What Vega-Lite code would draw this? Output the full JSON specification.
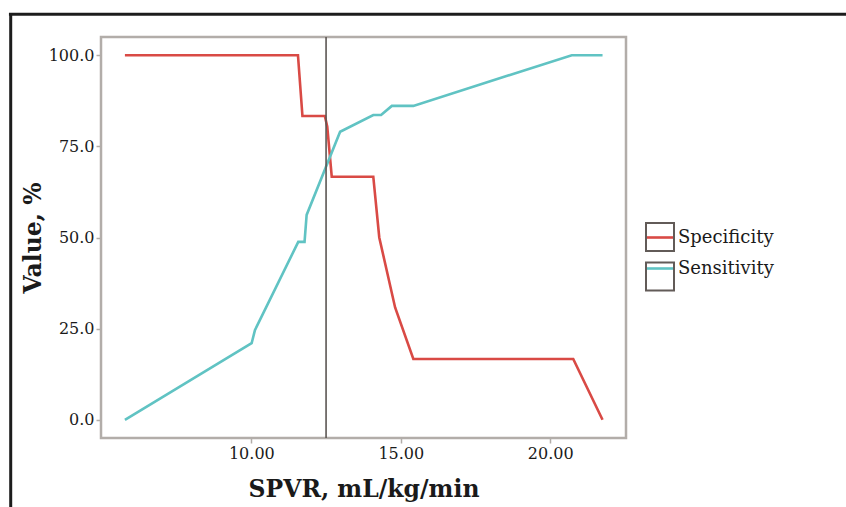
{
  "$schema": "https://vega.github.io/schema/vega-lite/v6.json",
  "width": 525,
  "height": 401,
  "autosize": {"type": "none"},
  "padding": {"left": 101, "top": 37, "right": 220, "bottom": 69},
  "background": "#ffffff",
  "config": {
    "font": "DejaVu Serif",
    "view": {"stroke": "#b2ada9", "strokeWidth": 2.5},
    "axis": {
      "labelFont": "DejaVu Serif",
      "titleFont": "DejaVu Serif",
      "labelFontSize": 16,
      "labelColor": "#1a1a1a",
      "titleFontSize": 23.5,
      "titleFontWeight": "bold",
      "titleColor": "#1a1a1a",
      "gridColor": "#e7e2e1",
      "gridWidth": 1,
      "tickColor": "#b2ada9",
      "tickSize": 5,
      "tickWidth": 1.5,
      "domain": false,
      "labelPadding": 2
    }
  },
  "data": {
    "values": [
      {"spvr": 5.77, "value": 100, "series": "Specificity"},
      {"spvr": 11.56, "value": 100, "series": "Specificity"},
      {"spvr": 11.71, "value": 83.33, "series": "Specificity"},
      {"spvr": 12.46, "value": 83.33, "series": "Specificity"},
      {"spvr": 12.54, "value": 80.4, "series": "Specificity"},
      {"spvr": 12.69, "value": 66.67, "series": "Specificity"},
      {"spvr": 14.08, "value": 66.67, "series": "Specificity"},
      {"spvr": 14.28, "value": 50.0, "series": "Specificity"},
      {"spvr": 14.81, "value": 30.8, "series": "Specificity"},
      {"spvr": 15.42, "value": 16.67, "series": "Specificity"},
      {"spvr": 20.77, "value": 16.67, "series": "Specificity"},
      {"spvr": 21.75, "value": 0, "series": "Specificity"},
      {"spvr": 5.77, "value": 0, "series": "Sensitivity"},
      {"spvr": 10.01, "value": 21.0, "series": "Sensitivity"},
      {"spvr": 10.12, "value": 24.6, "series": "Sensitivity"},
      {"spvr": 11.57, "value": 48.8, "series": "Sensitivity"},
      {"spvr": 11.78, "value": 48.8, "series": "Sensitivity"},
      {"spvr": 11.85, "value": 56.2, "series": "Sensitivity"},
      {"spvr": 12.97, "value": 79.0, "series": "Sensitivity"},
      {"spvr": 14.08, "value": 83.6, "series": "Sensitivity"},
      {"spvr": 14.34, "value": 83.6, "series": "Sensitivity"},
      {"spvr": 14.70, "value": 86.1, "series": "Sensitivity"},
      {"spvr": 15.42, "value": 86.1, "series": "Sensitivity"},
      {"spvr": 20.72, "value": 100, "series": "Sensitivity"},
      {"spvr": 21.75, "value": 100, "series": "Sensitivity"}
    ]
  },
  "layer": [
    {
      "data": {"values": [{}]},
      "mark": {"type": "rule", "color": "#1c1c1c", "strokeWidth": 3},
      "encoding": {
        "x": {"datum": 1.89, "type": "quantitative", "scale": {"domain": [4.97, 22.535]}},
        "x2": {"datum": 40},
        "y": {"datum": 111.23, "type": "quantitative", "scale": {"domain": [-5, 105]}}
      }
    },
    {
      "data": {"values": [{}]},
      "mark": {"type": "rule", "color": "#1c1c1c", "strokeWidth": 3},
      "encoding": {
        "x": {"datum": 1.949, "type": "quantitative", "scale": {"domain": [4.97, 22.535]}},
        "y": {"datum": 111.6, "type": "quantitative", "scale": {"domain": [-5, 105]}},
        "y2": {"datum": -60}
      }
    },
    {
      "mark": {"type": "line", "strokeWidth": 2.6},
      "encoding": {
        "x": {
          "field": "spvr",
          "type": "quantitative",
          "scale": {"domain": [4.97, 22.535], "nice": false, "zero": false},
          "axis": {"values": [10, 15, 20], "format": ".2f", "title": "SPVR, mL/kg/min", "titleY": 58, "titleBaseline": "alphabetic"}
        },
        "y": {
          "field": "value",
          "type": "quantitative",
          "scale": {"domain": [-5, 105], "nice": false, "zero": false},
          "axis": {"values": [0, 25, 50, 75, 100], "format": ".1f", "title": "Value, %", "titleX": -61, "titleY": 200.5, "titleBaseline": "alphabetic", "titleAngle": -90}
        },
        "color": {
          "field": "series",
          "type": "nominal",
          "scale": {"domain": ["Specificity", "Sensitivity"], "range": ["#d94a45", "#60c3c3"]},
          "legend": {
            "orient": "none",
            "legendX": 544,
            "legendY": 185,
            "title": null,
            "symbolType": "stroke",
            "symbolSize": 784,
            "symbolStrokeWidth": 2.6,
            "labelFont": "DejaVu Serif",
            "labelFontSize": 18,
            "labelColor": "#1a1a1a",
            "labelOffset": 2,
            "rowPadding": 6,
            "padding": 0
          }
        }
      }
    },
    {
      "transform": [{"calculate": "'box ' + datum.series", "as": "key"}],
      "mark": {"type": "point", "opacity": 0, "color": "#625b58", "filled": false, "strokeWidth": 2},
      "encoding": {
        "x": {"field": "spvr", "type": "quantitative", "scale": {"domain": [4.97, 22.535]}},
        "y": {"field": "value", "type": "quantitative", "scale": {"domain": [-5, 105]}},
        "shape": {
          "field": "key",
          "type": "nominal",
          "scale": {"domain": ["box Specificity", "box Sensitivity"], "range": ["square", "square"]},
          "legend": {
            "orient": "none",
            "legendX": 544,
            "legendY": 185,
            "title": null,
            "symbolSize": 784,
            "symbolStrokeColor": "#625b58",
            "symbolStrokeWidth": 2,
            "labelFont": "DejaVu Serif",
            "labelFontSize": 18,
            "labelExpr": "''",
            "labelOffset": 2,
            "rowPadding": 3.5,
            "padding": 0,
            "encode": {
              "symbols": {
                "update": {
                  "opacity": {"value": 1},
                  "stroke": {"value": "#625b58"},
                  "fill": {"value": "transparent"},
                  "strokeWidth": {"value": 2}
                }
              }
            }
          }
        }
      }
    },
    {
      "data": {"values": [{}]},
      "mark": {"type": "rule", "color": "#5c5653", "strokeWidth": 1.6},
      "encoding": {
        "x": {"datum": 12.5, "type": "quantitative", "scale": {"domain": [4.97, 22.535]}}
      }
    }
  ]
}
